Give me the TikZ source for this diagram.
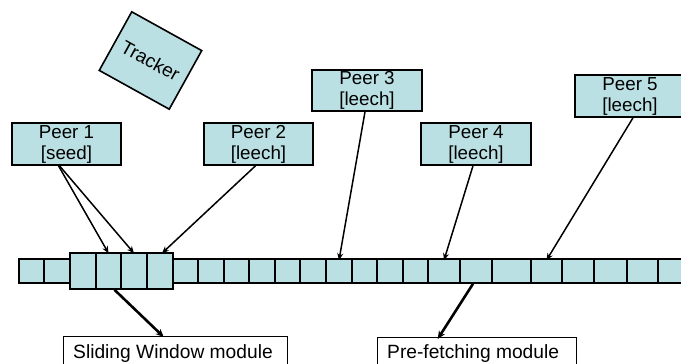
\documentclass[tikz,border=0pt]{standalone}
\usepackage{fontspec}
\setmainfont{Liberation Sans}
\usetikzlibrary{arrows.meta}
\definecolor{cellfill}{RGB}{187,224,227}
\begin{document}
\begin{tikzpicture}[x=1pt,y=-1pt,
  box/.style={draw=black, fill=cellfill, line width=1.6pt, inner sep=0pt, align=center,
    font=\fontsize{18.8}{21}\selectfont},
  cell/.style={draw=black, fill=cellfill, line width=1.6pt, inner sep=0pt, minimum height=24pt},
  wcell/.style={draw=black, fill=cellfill, line width=1.6pt, inner sep=0pt, minimum height=36pt},
  modbox/.style={draw=black, fill=white, line width=1.4pt, inner sep=0pt},
  modtext/.style={inner sep=0pt, font=\fontsize{19.2}{21}\selectfont},
  parrow/.style={line width=1.5pt, -{Stealth[length=7pt,width=6pt]}},
  marrow/.style={line width=2.6pt, -{Stealth[length=8pt,width=7pt]}}]
\useasboundingbox (0,0) rectangle (681,364);
\clip (0,0) rectangle (681,364);
% tracker
\node[box, minimum width=80pt, minimum height=67pt, rotate=-29,
  font=\fontsize{19}{21}\selectfont] (tr) at (150.5,60.5) {Tracker};
% peers
\node[box, minimum width=109pt, minimum height=42pt] (p1) at (66.5,144) {Peer 1\\{}[seed]};
\node[box, minimum width=109pt, minimum height=42pt] (p2) at (258.5,144) {Peer 2\\{}[leech]};
\node[box, minimum width=110pt, minimum height=41pt] (p3) at (367,90.5) {Peer 3\\{}[leech]};
\node[box, minimum width=110pt, minimum height=42pt] (p4) at (476,144) {Peer 4\\{}[leech]};
\node[box, minimum width=110pt, minimum height=42pt] (p5) at (630,96) {Peer 5\\{}[leech]};
% bar of cells
\foreach \a/\b [count=\i] in {19/44,44/70,173/198,198/224,224/249,249/275,275/300,300/326,
  326/352,352/377,377/403,403/428,428/460,460/492,492/531,531/562,562/594,594/627,627/658,658/690}
  \node[cell, minimum width={(\b-\a)*1pt}] (c\i) at ({(\a+\b)/2},271) {};
% sliding window cells
\foreach \a/\b [count=\i] in {70/96,96/121,121/147,147/173}
  \node[wcell, minimum width={(\b-\a)*1pt}] (w\i) at ({(\a+\b)/2},271) {};
% module boxes
\node[modbox, anchor=north west, minimum width=224pt, minimum height=40pt] (sw) at (63,336) {};
\node[modtext, anchor=base west] (swt) at (73,358) {Sliding Window module};
\node[modbox, anchor=north west, minimum width=199pt, minimum height=40pt] (pf) at (377,337) {};
\node[modtext, anchor=base west] (pft) at (387,358) {Pre-fetching module};
% peer arrows
\draw[parrow] ([xshift=-8pt]p1.south) -- ([yshift=-1pt]w2.north);
\draw[parrow] ([xshift=-7pt]p1.south) -- ([yshift=-1pt]w3.north);
\draw[parrow] ([xshift=-3pt]p2.south) -- ([xshift=2pt,yshift=-1pt]w4.north);
\draw[parrow] ([xshift=-2pt]p3.south) -- ([yshift=-2pt]c9.north);
\draw[parrow] ([xshift=-3pt]p4.south) -- ([yshift=-2pt]c13.north);
\draw[parrow] ([xshift=3pt]p5.south) -- ([yshift=-2pt]c16.north);
% module arrows
\draw[marrow] ([xshift=6pt]w2.south) -- ([xshift=-12pt,yshift=-1pt]sw.north);
\draw[marrow] ([xshift=-3pt]c14.south) -- ([xshift=-39.5pt,yshift=-2pt]pf.north);
\end{tikzpicture}
\end{document}
